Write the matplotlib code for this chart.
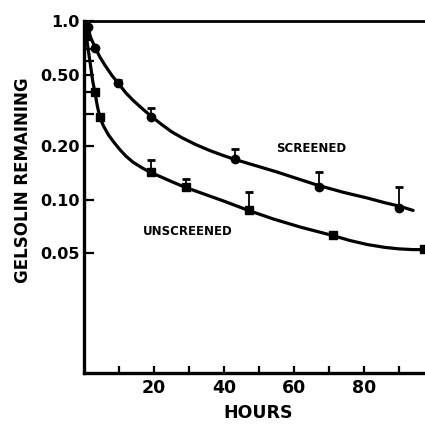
import matplotlib
matplotlib.use("Agg")
import matplotlib.pyplot as plt
from matplotlib.ticker import FixedLocator, NullFormatter

# =============================================================================
# DATA
# =============================================================================

# measured points
screened_hours = [1.0, 3.2, 9.7, 19.0, 43.0, 67.0, 90.0]
screened_frac = [0.92, 0.71, 0.45, 0.29, 0.168, 0.118, 0.090]
screened_err = [0.0, 0.0, 0.02, 0.035, 0.023, 0.025, 0.028]

unscreened_hours = [0.6, 3.1, 4.5, 19.0, 29.0, 47.0, 71.0, 97.0]
unscreened_frac = [0.82, 0.40, 0.29, 0.142, 0.117, 0.087, 0.063, 0.053]
unscreened_err = [0.0, 0.0, 0.0, 0.024, 0.014, 0.024, 0.0, 0.0]

# hand drawn fitted curves, traced point by point
screened_curve_h = [0, 0.5, 1, 2, 3.2, 4.5, 6, 8, 9.7, 12, 14, 16.5, 19, 22, 25,
                    28, 32, 36, 40, 43, 50, 55, 62, 67, 74, 81, 86, 90, 94]
screened_curve_y = [1.0, 0.95, 0.90, 0.80, 0.71, 0.63, 0.565, 0.495, 0.45, 0.395,
                    0.36, 0.325, 0.295, 0.265, 0.24, 0.222, 0.203, 0.188, 0.176,
                    0.168, 0.153, 0.143, 0.129, 0.120, 0.110, 0.102, 0.096,
                    0.092, 0.087]

unscreened_curve_h = [0, 0.5, 1, 1.5, 2, 2.5, 3.1, 3.8, 4.5, 5.5, 7, 8.5, 10.3,
                      12, 14, 16.5, 19, 22, 25.5, 29, 34, 40, 47, 54, 62, 71,
                      76, 81, 86, 90, 94, 98]
unscreened_curve_y = [1.0, 0.86, 0.74, 0.63, 0.54, 0.46, 0.40, 0.335, 0.29, 0.26,
                      0.23, 0.21, 0.19, 0.175, 0.162, 0.151, 0.142, 0.134, 0.125,
                      0.117, 0.108, 0.098, 0.087, 0.078, 0.070, 0.063, 0.059,
                      0.056, 0.054, 0.053, 0.0525, 0.0525]

x_ticks = [10, 20, 30, 40, 50, 60, 70, 80, 90]
x_labels = ["", "20", "", "40", "", "60", "", "80", ""]
y_ticks = [1.0, 0.5, 0.2, 0.1, 0.05]
y_labels = ["1.0", "0.50", "0.20", "0.10", "0.05"]
y_minor = [0.3, 0.4, 0.6, 0.7]

# =============================================================================
# PLOT
# =============================================================================

fig = plt.figure(figsize=(4.25, 4.28), dpi=100)
ax = fig.add_axes([84 / 425, 1 - 373 / 428, 1 - 84 / 425, (373 - 21) / 428])

ax.set_yscale("log")
ax.set_xlim(0, 97.4)
ax.set_ylim(0.0107, 1.0)

for h, y in [(screened_curve_h, screened_curve_y),
             (unscreened_curve_h, unscreened_curve_y)]:
    ax.plot(h, y, color="black", lw=2.3,
            solid_capstyle="round", solid_joinstyle="round")

ax.errorbar(screened_hours, screened_frac, yerr=[[0] * 7, screened_err],
            fmt="o", color="black", ms=6, capsize=3, capthick=2, elinewidth=1.3)
ax.errorbar(unscreened_hours, unscreened_frac, yerr=[[0] * 8, unscreened_err],
            fmt="s", color="black", ms=6, capsize=3, capthick=2, elinewidth=1.3)

ax.text(65, 0.194, "SCREENED", ha="center", va="center",
        fontsize=8.5, fontweight="bold")
ax.text(29.5, 0.066, "UNSCREENED", ha="center", va="center",
        fontsize=8.5, fontweight="bold")

# axes styling
ax.spines["right"].set_visible(False)
ax.spines["left"].set_linewidth(2.4)
ax.spines["bottom"].set_linewidth(2.4)
ax.spines["top"].set_linewidth(2.0)

ax.xaxis.set_major_locator(FixedLocator(x_ticks))
ax.set_xticklabels(x_labels)
ax.yaxis.set_major_locator(FixedLocator(y_ticks))
ax.yaxis.set_minor_locator(FixedLocator(y_minor))
ax.set_yticklabels(y_labels)
ax.yaxis.set_minor_formatter(NullFormatter())

ax.tick_params(axis="x", direction="in", length=5, width=1.6, pad=4,
               labelsize=12.5, top=False)
ax.tick_params(axis="y", which="major", direction="in", length=7.5, width=1.6,
               pad=3, labelsize=11.5, right=False)
ax.tick_params(axis="y", which="minor", direction="in", length=7.5, width=1.6,
               right=False)
for lab in ax.get_xticklabels() + ax.get_yticklabels():
    lab.set_fontweight("bold")

fig.text(23 / 425, 1 - 180 / 428, "GELSOLIN REMAINING", rotation=90,
         ha="center", va="center", fontsize=12, fontweight="bold")
fig.text(258 / 425, 1 - 413 / 428, "HOURS", ha="center", va="center",
         fontsize=12.5, fontweight="bold")

fig.savefig("out.png", dpi=100)
